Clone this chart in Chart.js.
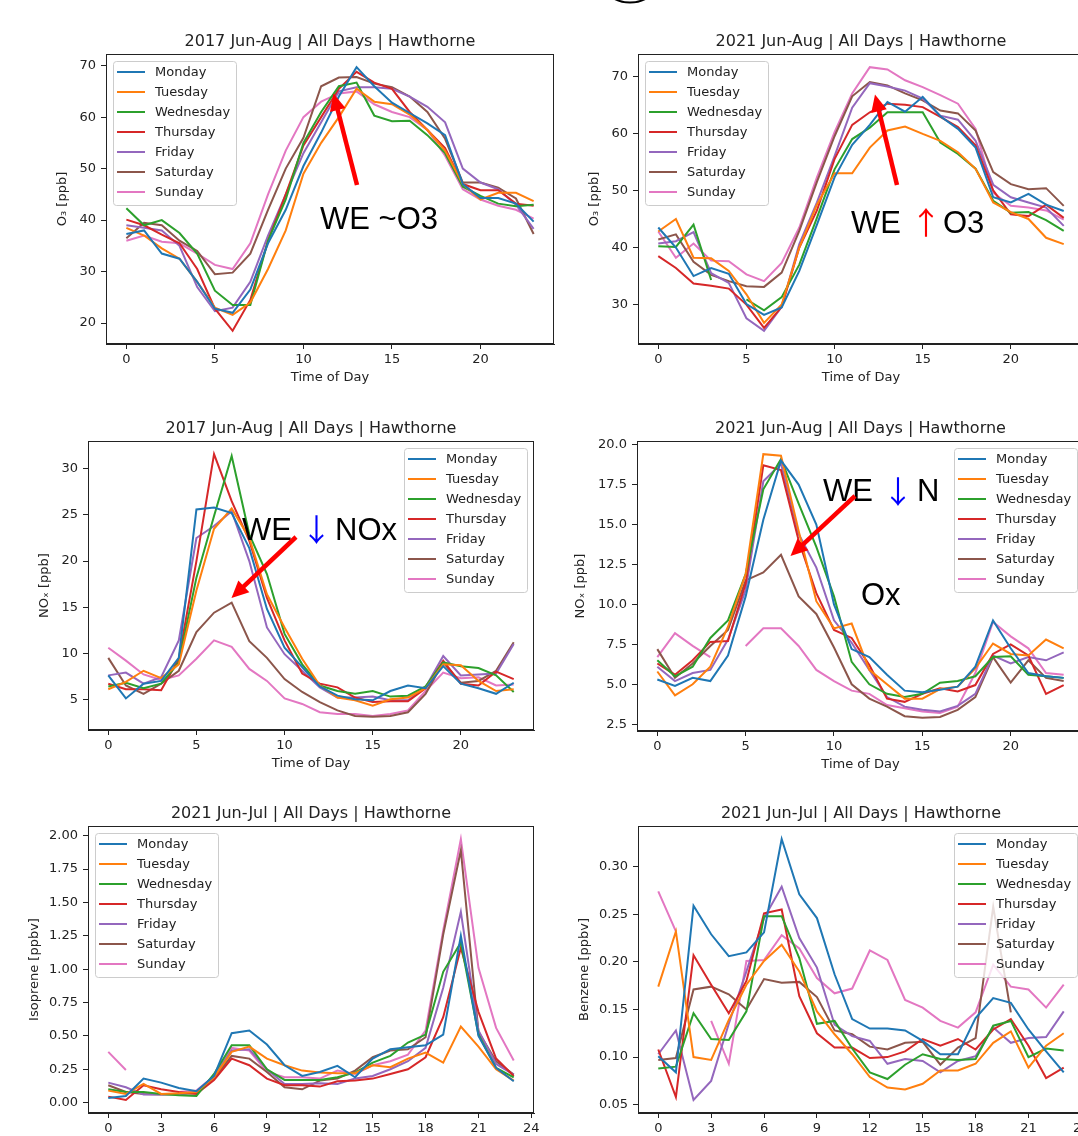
<!DOCTYPE html>
<html><head><meta charset="utf-8">
<script src="https://cdn.jsdelivr.net/npm/chart.js@4.4.1/dist/chart.umd.min.js"></script>
<style>
html,body{margin:0;padding:0;background:#fff;overflow:hidden;}
#page{position:relative;width:1078px;height:1136px;overflow:hidden;background:#fff;}
#page canvas{position:absolute;}
#ann{position:absolute;left:0;top:0;pointer-events:none;}
</style></head><body>
<div id="page">
<canvas id="c0"></canvas><canvas id="c1"></canvas><canvas id="c2"></canvas>
<canvas id="c3"></canvas><canvas id="c4"></canvas><canvas id="c5"></canvas>
<svg id="ann" width="1078" height="1136" xmlns="http://www.w3.org/2000/svg"></svg>
</div>
<script>
// ---------------- data ----------------
const hours = [0,1,2,3,4,5,6,7,8,9,10,11,12,13,14,15,16,17,18,19,20,21,22,23];
const days = ['Monday','Tuesday','Wednesday','Thursday','Friday','Saturday','Sunday'];

// O3 [ppb], 2017 Jun-Aug (rows: Monday..Sunday)
const o3_2017 = [
 [37.3,38,33.5,32.5,28,22.8,22,26.5,35.5,42,50.5,57,64,69.7,66,62.8,60.8,58.8,56.5,47,44.3,44.3,43.2,39.7],
 [38.5,37,34.5,32.5,28,23,21.6,24,30.5,38,49,55,60,65.5,63,62.5,60.5,57.5,53.5,47,44,45.3,45.3,43.7],
 [42.3,39,40,37.5,33.5,26.3,23.5,23.5,36,44,55,61,66,66.7,60.3,59.2,59.3,56.5,53,46.5,44.7,43.2,42.7,43],
 [40.1,39,37.2,35.5,30.5,22.8,18.5,24.5,36,45,54.5,60,65.5,68.8,66.7,65.5,61,57.5,54,47,45.8,45.8,43.2,42.8],
 [39,38.5,38,35,27,22.3,23,28,37,45,53,59,65,65.8,65.8,65.5,64,62,59,50,47.3,46,43,38.3],
 [36.5,39.5,39,36,34,29.5,29.8,33.5,42,50,56,66,67.7,67.8,66.5,65.8,64,61,55.8,47.3,47.3,46.3,44.2,37.3],
 [36,37,35.8,35.5,33.5,31.3,30.5,35.5,45,53.5,60,63,64.6,65,62.5,61,60,57.5,52.5,46,44,42.8,42,40.3]
];
// O3 [ppb], 2021 Jun-Aug
const o3_2021 = [
 [43.5,40,35,36.4,35.4,30.1,28.2,29.5,35.9,44,52.3,58,61.5,65.5,63.8,66.4,63,60.8,57.5,48.8,47.9,49.4,47.5,46.4],
 [42.8,45,38.2,38.1,35.9,31.8,26.8,30,40,47.5,53,53,57.5,60.5,61.2,59.9,58.7,56.7,53.8,47.9,46.2,45,41.7,40.6],
 [40.2,40.1,44,34.3,null,30.9,29,31.3,37,45.2,53.7,59,61,63.7,63.7,63.7,58.4,56.4,53.8,48.2,46.1,46.2,44.8,42.9],
 [38.5,36.4,33.7,33.3,32.8,30,25.9,29.6,40,46.5,55.5,61.5,63.7,65.2,65,64.6,62.9,61.1,57.9,50,45.8,45.5,47.5,45.2],
 [40.7,41.1,42.7,35.5,33.8,27.6,25.4,29.6,40.6,47.9,56,64.5,68.8,68.2,67.5,66.1,63.1,62.4,58.7,51,48.8,47.9,47,43.8],
 [41.4,42.3,37.5,35.2,34.1,33.2,33.1,35.6,42.9,51.5,59.5,66.5,69,68.4,67,65.8,64,63.5,60.5,53.2,51.1,50.2,50.4,47.3],
 [42.8,38.2,40.7,37.7,37.6,35.3,34.1,37.3,43.5,52.3,60.2,67,71.6,71.2,69.3,68.1,66.7,65.2,60.8,49.6,47.3,47,46.5,44.9]
];
// NOx [ppb], 2017 Jun-Aug
const nox_2017 = [
 [7.6,5.1,6.7,7.0,9.5,25.6,25.8,25.2,21.4,14.8,10.6,8.5,6.4,5.4,5.0,4.9,5.9,6.5,6.2,8.6,6.7,6.2,5.6,6.8],
 [6.1,6.9,8.1,7.3,8.8,16.8,23.5,25.7,22.5,16.4,12.8,9.4,6.5,5.2,4.9,4.3,5.0,5.2,6.2,8.8,8.7,7.0,5.9,6.1],
 [6.4,6.8,6.2,6.7,9.0,18.2,24.9,31.4,22.9,18.6,12.1,8.8,6.5,5.9,5.6,5.9,5.3,5.4,6.4,9.0,8.6,8.4,7.6,5.8],
 [6.7,6.1,6.1,6.0,9.4,20.0,31.6,26.5,22.2,16.0,11.4,7.8,6.7,6.3,5.2,4.7,4.8,4.8,6.2,9.2,6.7,6.5,8.0,7.2],
 [7.6,7.9,6.7,7.4,11.4,22.5,23.8,25.4,20.0,12.8,9.9,8.1,6.3,5.2,5.2,5.3,4.9,4.9,6.3,9.7,7.6,7.7,7.8,11.0],
 [9.5,6.5,5.6,6.7,8.1,12.3,14.4,15.5,11.3,9.5,7.2,5.8,4.7,3.8,3.2,3.1,3.2,3.6,5.6,9.0,6.8,7.0,8.1,11.2],
 [10.6,9.2,7.7,7.1,7.6,9.4,11.4,10.7,8.3,7.0,5.1,4.5,3.6,3.4,3.4,3.2,3.4,3.8,5.9,7.9,7.3,7.4,6.5,6.6]
];
// NOx [ppb], 2021 Jun-Aug
const nox_2021 = [
 [5.3,4.9,5.4,5.2,6.8,10.5,15.3,19.0,17.5,15.0,10.0,7.2,6.7,5.6,4.6,4.5,4.65,4.85,6.1,9.0,7.25,5.7,5.5,5.4],
 [5.8,4.3,5.0,6.1,8.6,11.9,19.4,19.3,14.6,10.2,8.5,8.8,5.9,5.0,4.1,4.1,4.7,4.85,6.0,7.55,6.9,6.8,7.8,7.25],
 [6.5,5.5,6.1,7.9,9.0,11.9,17.2,19.1,16.3,13.6,10.5,6.4,5.0,4.4,4.2,4.4,5.1,5.2,5.5,6.7,6.75,5.6,5.5,5.4],
 [6.3,5.6,6.5,7.65,7.7,11.3,18.7,18.4,14.0,10.7,8.4,7.9,6.2,4.1,3.9,4.4,4.75,4.55,4.95,6.9,7.5,6.8,4.4,4.95],
 [6.1,5.2,5.7,5.9,7.8,10.9,17.7,18.8,14.4,12.3,9.0,7.6,5.9,4.2,3.6,3.4,3.3,3.65,4.4,6.8,6.3,6.7,6.5,7.0],
 [7.2,5.4,6.3,7.4,8.4,11.5,12.0,13.1,10.5,9.4,7.3,5.0,4.1,3.6,3.0,2.9,2.95,3.4,4.2,6.7,5.1,6.5,5.4,5.2],
 [6.7,8.2,7.4,6.7,null,7.4,8.5,8.5,7.4,5.9,5.2,4.6,4.4,3.7,3.5,3.3,3.2,3.6,5.7,8.9,8.0,7.25,5.7,5.6]
];
// Isoprene [ppbv], 2021 Jun-Jul
const isoprene_2021 = [
 [0.035,0.05,0.18,0.15,0.11,0.085,0.2,0.52,0.54,0.435,0.28,0.2,0.23,0.275,0.19,0.33,0.40,0.415,0.43,0.51,1.25,0.5,0.26,0.16],
 [0.09,0.065,0.14,0.065,0.07,0.08,0.19,0.38,0.42,0.33,0.28,0.24,0.225,0.22,0.22,0.28,0.265,0.33,0.375,0.30,0.57,0.42,0.25,0.165],
 [0.10,0.08,0.08,0.065,0.055,0.05,0.215,0.43,0.43,0.25,0.17,0.17,0.17,0.19,0.225,0.30,0.35,0.45,0.51,0.98,1.2,0.51,0.26,0.19],
 [0.045,0.02,0.13,0.10,0.08,0.065,0.17,0.33,0.28,0.18,0.13,0.13,0.12,0.16,0.165,0.18,0.215,0.25,0.34,0.64,1.16,0.68,0.33,0.2],
 [0.15,0.115,0.06,0.06,0.065,0.08,0.2,0.39,0.40,0.25,0.14,0.14,0.145,0.14,0.18,0.2,0.25,0.31,0.41,0.86,1.43,0.54,0.29,0.21],
 [0.13,0.08,0.065,0.06,0.065,0.07,0.185,0.35,0.33,0.23,0.115,0.10,0.165,0.18,0.24,0.34,0.39,0.40,0.49,1.26,1.89,0.53,0.31,0.21],
 [0.38,0.245,null,null,0.08,0.09,0.2,0.41,0.39,0.23,0.19,0.19,0.18,0.24,0.215,0.28,0.31,0.36,0.54,1.29,1.975,1.01,0.56,0.315]
];
// Benzene [ppbv], 2021 Jun-Jul
const benzene_2021 = [
 [0.101,0.084,0.259,0.229,0.206,0.21,0.231,0.329,0.271,0.246,0.187,0.140,0.130,0.130,0.128,0.117,0.103,0.103,0.141,0.162,0.157,0.129,0.106,0.084],
 [0.174,0.232,0.100,0.097,0.139,0.176,0.201,0.218,0.19,0.148,0.124,0.103,0.079,0.068,0.066,0.072,0.086,0.086,0.093,0.115,0.127,0.089,0.112,0.125],
 [0.088,0.09,0.146,0.119,0.118,0.148,0.248,0.248,0.204,0.135,0.138,0.109,0.084,0.077,0.092,0.103,0.098,0.097,0.098,0.133,0.138,0.100,0.109,0.107],
 [0.108,0.058,0.207,0.176,0.146,0.18,0.251,0.255,0.164,0.125,0.110,0.110,0.099,0.100,0.106,0.119,0.112,0.119,0.108,0.129,0.140,0.112,0.078,0.089],
 [0.103,0.128,0.055,0.075,0.135,0.19,0.246,0.279,0.225,0.194,0.134,0.122,0.117,0.093,0.098,0.096,0.084,0.096,0.101,0.131,0.115,0.120,0.121,0.148],
 [0.097,0.099,0.171,0.174,0.166,0.15,0.182,0.178,0.179,0.163,0.128,0.124,0.111,0.108,0.115,0.116,0.092,0.110,0.12,0.258,0.147,null,null,null],
 [0.274,0.232,null,0.138,0.093,0.201,0.202,0.228,0.214,0.183,0.167,0.172,0.212,0.202,0.160,0.152,0.138,0.131,0.147,0.197,0.174,0.171,0.152,0.176]
];

const xTitle = 'Time of Day';
const titles = ['2017 Jun-Aug | All Days | Hawthorne','2021 Jun-Aug | All Days | Hawthorne','2021 Jun-Jul | All Days | Hawthorne'];
const yTitles = ['O₃ [ppb]','NOₓ [ppb]','Isoprene [ppbv]','Benzene [ppbv]'];

// ---------------- style ----------------
const colors = ['#1f77b4','#ff7f0e','#2ca02c','#d62728','#9467bd','#8c564b','#e377c2'];
const FONT = '"DejaVu Sans", "Liberation Sans", sans-serif';
const INK = '#222';
Chart.defaults.font.family = FONT;

const mplLegend = {
  id: 'mplLegend',
  afterDatasetsDraw(chart, args, opts) {
    const {ctx, chartArea: a} = chart;
    const fs = 13, rowH = 20;
    ctx.save();
    ctx.font = fs + 'px ' + FONT;
    const items = chart.data.datasets.map(d => ({label: d.label, color: d.borderColor}));
    const tw = Math.max(...items.map(i => ctx.measureText(i.label).width));
    const w = Math.round(42 + tw + 6), h = items.length * rowH + 4;
    const x = opts.loc === 'ur' ? Math.round(a.right - 7 - w) : Math.round(a.left + 7);
    const y = Math.round(a.top + 7);
    ctx.beginPath();
    ctx.roundRect(x + 0.5, y + 0.5, w, h, 3);
    ctx.fillStyle = 'rgba(255,255,255,0.8)'; ctx.fill();
    ctx.strokeStyle = '#cccccc'; ctx.lineWidth = 1; ctx.stroke();
    items.forEach((it, i) => {
      const cy = y + 11 + i * rowH;
      ctx.strokeStyle = it.color; ctx.lineWidth = 2;
      ctx.beginPath(); ctx.moveTo(x + 4, cy); ctx.lineTo(x + 32, cy); ctx.stroke();
      ctx.fillStyle = INK; ctx.textBaseline = 'middle'; ctx.textAlign = 'left';
      ctx.fillText(it.label, x + 42, cy + 1);
    });
    ctx.restore();
  }
};
const framePlugin = {
  id: 'frame',
  afterDraw(chart) {
    const {ctx, chartArea: a} = chart;
    ctx.save(); ctx.strokeStyle = INK; ctx.lineWidth = 1;
    ctx.strokeRect(Math.round(a.left) + 0.5, Math.round(a.top) + 0.5, Math.round(a.right - a.left) - 1, Math.round(a.bottom - a.top) - 1);
    ctx.restore();
  }
};

function autoRange(series) {
  const v = series.flat().filter(x => x !== null);
  const mn = Math.min(...v), mx = Math.max(...v), m = (mx - mn) * 0.05;
  return [mn - m, mx + m];
}
const xm = (hours[hours.length - 1] - hours[0]) * 0.05;

const panels = [
  {id:'c0', box:{l:106,t:54,r:554,b:344}, title:titles[0], series:o3_2017, ytitle:yTitles[0], ydist:43.5, xstep:5, ystep:10, dec:0, xtitle:xTitle, loc:'ul', bb:45},
  {id:'c1', box:{l:638,t:54,r:1084,b:344}, title:titles[1], series:o3_2021, ytitle:yTitles[0], ydist:43, xstep:5, ystep:10, dec:0, xtitle:xTitle, loc:'ul', bb:45},
  {id:'c2', box:{l:88,t:441,r:534,b:730}, title:titles[0], series:nox_2017, ytitle:yTitles[1], ydist:43.5, xstep:5, ystep:5, dec:0, xtitle:xTitle, loc:'ur', bb:45},
  {id:'c3', box:{l:637,t:441,r:1084,b:731}, title:titles[1], series:nox_2021, ytitle:yTitles[1], ydist:56.5, xstep:5, ystep:2.5, dec:1, xtitle:xTitle, loc:'ur', bb:45},
  {id:'c4', box:{l:88,t:826,r:534,b:1113}, title:titles[2], series:isoprene_2021, ytitle:yTitles[2], ydist:53.4, xstep:3, ystep:0.25, dec:2, xtitle:'', loc:'ul', bb:25},
  {id:'c5', box:{l:638,t:826,r:1084,b:1113}, title:titles[2], series:benzene_2021, ytitle:yTitles[3], ydist:53, xstep:3, ystep:0.05, dec:2, xtitle:'', loc:'ur', bb:25}
];

const LW = 80, TT = 30, RR = 20;
panels.forEach(p => {
  const cv = document.getElementById(p.id);
  const BB = p.bb;
  const W = p.box.r - p.box.l + LW + RR, H = p.box.b - p.box.t + TT + BB;
  cv.width = W; cv.height = H;
  cv.style.width = W + 'px'; cv.style.height = H + 'px';
  cv.style.left = (p.box.l - LW) + 'px'; cv.style.top = (p.box.t - TT) + 'px';
  const [ymin, ymax] = autoRange(p.series);
  const tickFont = {family: FONT, size: 13};
  const gridOpt = {display: true, drawOnChartArea: false, drawTicks: true, tickLength: 5, color: INK, tickWidth: 1};
  new Chart(cv, {
    type: 'line',
    data: {
      datasets: p.series.map((vals, i) => ({
        label: days[i],
        data: hours.map((h, j) => ({x: h, y: vals[j]})),
        borderColor: colors[i], backgroundColor: colors[i],
        borderWidth: 2, pointRadius: 0, pointHoverRadius: 0, tension: 0, fill: false, spanGaps: false
      }))
    },
    options: {
      responsive: false, animation: false, devicePixelRatio: 1,
      layout: {padding: {left: 0, top: 0, right: RR, bottom: 0}},
      plugins: {
        legend: {display: false}, tooltip: {enabled: false},
        title: {display: true, fullSize: false, text: p.title, color: INK, font: {family: FONT, size: 16, weight: 'normal'}, padding: {top: TT - 19.2 - 3.0, bottom: 3.0}},
        mplLegend: {loc: p.loc}
      },
      scales: {
        x: {
          type: 'linear', min: hours[0] - xm, max: hours[hours.length - 1] + xm,
          afterFit(s) { s.height = BB; },
          ticks: {stepSize: p.xstep, includeBounds: false, autoSkip: false, maxRotation: 0, minRotation: 0, padding: 2.5, color: INK, font: tickFont, callback: v => String(v)},
          grid: gridOpt, border: {display: true, color: INK, width: 1},
          title: {display: !!p.xtitle, text: p.xtitle, color: INK, font: tickFont, padding: {top: 0, bottom: BB - 33.5 - 7.8}}
        },
        y: {
          type: 'linear', min: ymin, max: ymax,
          afterFit(s) { s.width = LW; },
          ticks: {stepSize: p.ystep, includeBounds: false, padding: 5, color: INK, font: tickFont, callback: v => Number(v).toFixed(p.dec)},
          grid: gridOpt, border: {display: true, color: INK, width: 1},
          title: {display: true, text: p.ytitle, color: INK, font: tickFont, padding: {top: LW - p.ydist - 7.8, bottom: 0}}
        }
      }
    },
    plugins: [mplLegend, framePlugin]
  });
});

// ---------------- annotations (SVG overlay) ----------------
const svg = document.getElementById('ann');
const NS = 'http://www.w3.org/2000/svg';
function el(tag, attrs, text) {
  const e = document.createElementNS(NS, tag);
  for (const k in attrs) e.setAttribute(k, attrs[k]);
  if (text !== undefined) e.textContent = text;
  svg.appendChild(e);
  return e;
}
function arrow(x1, y1, x2, y2) {
  const dx = x2 - x1, dy = y2 - y1, L = Math.hypot(dx, dy), ux = dx / L, uy = dy / L;
  const hl = 17, hw = 8;
  const bx = x2 - ux * hl, by = y2 - uy * hl;
  el('line', {x1, y1, x2: bx + ux * 2, y2: by + uy * 2, stroke: '#ff0000', 'stroke-width': 4.5});
  el('polygon', {points: `${x2},${y2} ${bx - uy * hw},${by + ux * hw} ${bx + uy * hw},${by - ux * hw}`, fill: '#ff0000'});
}
const TF = '"Liberation Sans", Arial, sans-serif';
const AF = '"Noto Sans CJK JP", "DejaVu Sans", sans-serif';
function txt(x, y, s, color, fam, size) {
  return el('text', {x, y, fill: color || '#000', 'font-family': fam || TF, 'font-size': size || 31}, s);
}
function sym(cx, y, s, color) {
  return el('text', {x: cx, y, fill: color, 'font-family': AF, 'font-size': 31, 'text-anchor': 'middle'}, s);
}
el('circle', {cx: 630, cy: -31.5, r: 34, fill: 'none', stroke: '#000', 'stroke-width': 2});

txt(320, 228.5, 'WE ~O3');
arrow(357, 185, 333.5, 93.5);

txt(851, 232.5, 'WE');
sym(926, 234, '↑', '#ff0000');
txt(943, 232.5, 'O3');
arrow(897, 185, 875, 94.5);

txt(242, 539.5, 'WE');
sym(316.5, 541, '↓', '#0000ff');
txt(335, 539.5, 'NOx');
arrow(296, 537, 231.5, 598);

txt(823, 501, 'WE');
sym(898, 502.5, '↓', '#0000ff');
txt(917, 501, 'N');
txt(861, 605, 'Ox');
arrow(855, 496, 790.5, 556);
</script>
</body></html>
